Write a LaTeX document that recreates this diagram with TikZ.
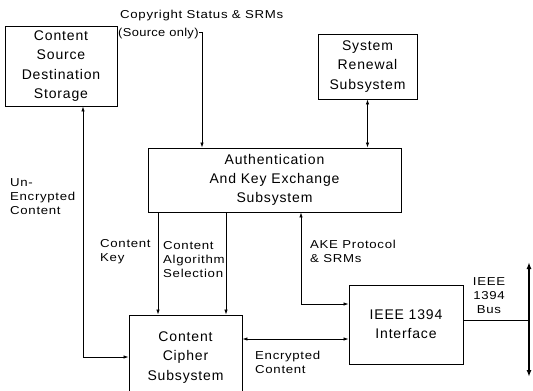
\documentclass[tikz,border=0pt]{standalone}
\usepackage{fontspec}
\setmainfont{Liberation Sans}
\usetikzlibrary{arrows.meta}
\begin{document}
\begin{tikzpicture}[x=1pt,y=-1pt,
  box/.style={draw,line width=0.9pt,align=center,font=\fontsize{14}{19.3}\selectfont\addfontfeatures{LetterSpace=6},inner sep=0pt},
  lbl/.style={align=left,font=\fontsize{11.5}{14}\selectfont\addfontfeatures{FakeStretch=1.15,LetterSpace=6},inner sep=0pt},
  conn/.style={line width=0.8pt,-{Latex[length=5pt,width=3.5pt]}},
  dconn/.style={line width=0.8pt,{Latex[length=5pt,width=3.5pt]}-{Latex[length=5pt,width=3.5pt]}}]
\useasboundingbox[fill=white] (0,0) rectangle (533,391);
\node[box,minimum width=112pt,minimum height=80pt] (cs) at (61,66) {Content\\Source\\Destination\\Storage};
\node[box,minimum width=99pt,minimum height=65pt] (sr) at (367.5,66.5) {System\\Renewal\\Subsystem};
\node[box,minimum width=253pt,minimum height=64pt] (au) at (274.5,180) {Authentication\\And Key Exchange\\Subsystem};
\node[box,minimum width=113pt,minimum height=85pt] (cc) at (185.5,357.5) {Content\\Cipher\\Subsystem};
\node[box,minimum width=114pt,minimum height=79pt] (ie) at (406,324.5) {IEEE 1394\\Interface};
\coordinate (cpA) at (202,32);
\coordinate (ucA) at (83,357);
\coordinate (akA) at (301,304);
\coordinate (busT) at (529,262);
\coordinate (busB) at (529,377);
% connectors
\draw[conn] (cs.east |- cpA) -- (cpA) -- (cpA |- au.north);
\draw[dconn] (sr.south) -- (sr.south |- au.north);
\draw[dconn] (ucA |- cs.south) -- (ucA) -- (cc.west |- ucA);
\draw[conn] (158,0 |- au.south) -- (158,0 |- cc.north);
\draw[conn] (226,0 |- au.south) -- (226,0 |- cc.north);
\draw[dconn] (akA |- au.south) -- (akA) -- (ie.west |- akA);
\draw[dconn] (cc.east |- 0,339) -- (ie.west |- 0,339);
\draw[line width=0.8pt] (ie.east |- 0,320) -- (busT |- 0,320);
\draw[line width=2.6pt,{Latex[length=7pt,width=5pt]}-{Latex[length=7pt,width=5pt]}] (busT) -- (busB);
% labels
\node[lbl,anchor=west] (l1) at (120,16) {Copyright Status \& SRMs};
\node[lbl,anchor=west,fill=white,inner ysep=1pt,font=\fontsize{11.5}{14}\selectfont\addfontfeatures{FakeStretch=1.12,LetterSpace=3}] (l2) at (118,33.5) {(Source only)};
\node[lbl,anchor=west] (l3) at (10,197) {Un-\\Encrypted\\Content};
\node[lbl,anchor=west] (l4) at (100,252) {Content\\Key};
\node[lbl,anchor=west] (l5) at (163,260) {Content\\Algorithm\\Selection};
\node[lbl,anchor=west] (l6) at (310,251) {AKE Protocol\\\& SRMs};
\node[lbl,anchor=west] (l7) at (255,362) {Encrypted\\Content};
\node[lbl,align=center] (l8) at (489,296) {IEEE\\1394\\Bus};
\end{tikzpicture}
\end{document}
